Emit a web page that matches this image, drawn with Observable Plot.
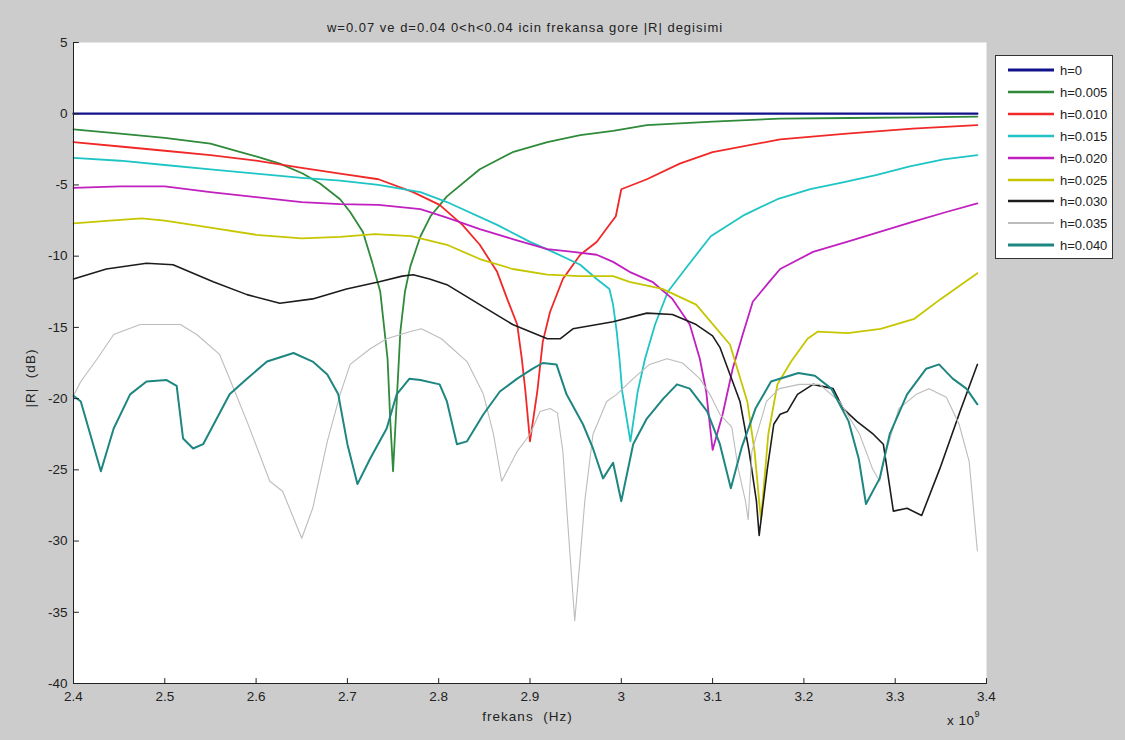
<!DOCTYPE html>
<html>
<head>
<meta charset="utf-8">
<script src="https://cdn.jsdelivr.net/npm/d3@7"></script>
<script src="https://cdn.jsdelivr.net/npm/@observablehq/plot@0.6"></script>
<style>
  html, body { margin: 0; padding: 0; background: #cccccc; }
  #fig { position: relative; width: 1125px; height: 740px; background: #cccccc; font-family: "Liberation Sans", Arial, sans-serif; color: #222; overflow: hidden; }
  #chart { position: absolute; left: 0; top: 0; }
  .lbl { position: absolute; white-space: pre; font-size: 13.5px; color: #222; letter-spacing: 1px; }
  #legend { position: absolute; left: 995px; top: 55px; width: 116px; height: 202px; background: #fff; border: 1px solid #333; }
  .lrow { position: absolute; left: 0; height: 22px; width: 116px; }
  .lrow svg { position: absolute; left: 12px; top: 0; }
  .lrow span { position: absolute; left: 64px; top: 4px; font-size: 13px; color: #222; }
</style>
</head>
<body>
<div id="fig">
  <div id="chart"></div>
  <div class="lbl" id="title" style="left:0; width:1050px; top:20px; text-align:center; font-size:13px;"></div>
  <div class="lbl" id="xlabel" style="left:0; width:1055px; top:709px; text-align:center;"></div>
  <div class="lbl" id="ylabel" style="left:30px; top:378px; transform: translate(-50%,-50%) rotate(-90deg);"></div>
  <div class="lbl" id="xexp" style="left:947px; top:711px; letter-spacing:0.5px;"></div>
  <div id="legend"></div>
</div>
<script>
// ---- text ----
const titleText = "w=0.07 ve d=0.04 0<h<0.04 icin frekansa gore |R| degisimi";
const xLabelText = "frekans  (Hz)";
const yLabelText = "|R|  (dB)";
const xExponent = "9";

// ---- ticks ----
const xTicks = [2.4, 2.5, 2.6, 2.7, 2.8, 2.9, 3.0, 3.1, 3.2, 3.3, 3.4];
const yTicks = [5, 0, -5, -10, -15, -20, -25, -30, -35, -40];

// ---- series (frequency in GHz, |R| in dB) ----
const seriesNames = ["h=0", "h=0.005", "h=0.010", "h=0.015", "h=0.020", "h=0.025", "h=0.030", "h=0.035", "h=0.040"];

const f000 = [2.40, 3.39];
const r000 = [0, 0];

const f005 = [2.400,2.451,2.500,2.550,2.583,2.600,2.626,2.651,2.670,2.692,2.703,2.717,2.727,2.736,2.744,2.747,2.750,2.754,2.758,2.763,2.769,2.780,2.791,2.809,2.845,2.881,2.919,2.955,2.991,3.028,3.100,3.174,3.250,3.327,3.390];
const r005 = [-1.1,-1.4,-1.7,-2.1,-2.7,-3.0,-3.5,-4.2,-4.9,-6.0,-6.9,-8.3,-10.4,-12.5,-17.2,-21.6,-25.1,-20.2,-15.3,-12.5,-10.7,-8.6,-7.2,-5.8,-3.9,-2.7,-2.0,-1.5,-1.2,-0.8,-0.55,-0.35,-0.3,-0.25,-0.2];

const f010 = [2.400,2.451,2.500,2.550,2.600,2.650,2.692,2.734,2.772,2.801,2.826,2.845,2.864,2.875,2.886,2.891,2.895,2.900,2.908,2.914,2.922,2.936,2.955,2.973,2.987,2.994,3.000,3.028,3.064,3.100,3.174,3.247,3.319,3.390];
const r010 = [-2.0,-2.3,-2.6,-2.9,-3.3,-3.8,-4.2,-4.6,-5.5,-6.4,-7.8,-9.2,-11.1,-13.0,-14.8,-17.2,-19.5,-23.0,-19.5,-16.0,-13.9,-11.6,-9.9,-9.0,-7.8,-7.2,-5.3,-4.6,-3.5,-2.7,-1.8,-1.4,-1.05,-0.8];

const f015 = [2.400,2.451,2.500,2.550,2.600,2.650,2.692,2.734,2.780,2.809,2.864,2.900,2.925,2.955,2.973,2.987,2.991,2.995,2.998,3.001,3.010,3.018,3.026,3.037,3.051,3.070,3.098,3.135,3.171,3.207,3.244,3.280,3.316,3.353,3.390];
const r015 = [-3.1,-3.3,-3.6,-3.9,-4.2,-4.5,-4.7,-5.0,-5.5,-6.2,-7.8,-9.0,-9.7,-10.6,-11.6,-12.3,-13.4,-15.3,-17.2,-19.5,-23.0,-19.5,-17.2,-14.8,-12.5,-10.9,-8.6,-7.1,-6.0,-5.3,-4.8,-4.3,-3.7,-3.2,-2.9];

const f020 = [2.400,2.451,2.500,2.550,2.600,2.650,2.692,2.734,2.780,2.809,2.845,2.881,2.919,2.947,2.973,2.991,3.009,3.034,3.056,3.075,3.086,3.093,3.100,3.111,3.122,3.133,3.144,3.162,3.174,3.210,3.247,3.283,3.319,3.356,3.390];
const r020 = [-5.2,-5.1,-5.1,-5.5,-5.85,-6.2,-6.35,-6.4,-6.7,-7.3,-8.1,-8.8,-9.5,-9.7,-9.9,-10.4,-11.1,-11.8,-13.0,-14.8,-17.2,-19.5,-23.6,-21.1,-17.9,-15.5,-13.2,-11.8,-10.9,-9.7,-9.0,-8.3,-7.6,-6.9,-6.3];

const f025 = [2.400,2.451,2.475,2.500,2.550,2.600,2.650,2.692,2.730,2.770,2.809,2.845,2.881,2.919,2.955,2.991,3.009,3.045,3.082,3.119,3.138,3.146,3.151,3.153,3.161,3.171,3.186,3.204,3.215,3.248,3.284,3.321,3.350,3.390];
const r025 = [-7.7,-7.45,-7.35,-7.5,-8.0,-8.5,-8.75,-8.65,-8.45,-8.6,-9.2,-10.2,-10.9,-11.3,-11.4,-11.4,-11.8,-12.3,-13.4,-16.2,-20.2,-23.7,-27.2,-28.5,-22.5,-19.0,-17.4,-15.8,-15.3,-15.4,-15.1,-14.4,-13.0,-11.2];

const f030 = [2.400,2.436,2.480,2.509,2.553,2.590,2.626,2.662,2.699,2.735,2.760,2.772,2.790,2.809,2.845,2.881,2.919,2.933,2.947,2.991,3.028,3.056,3.082,3.100,3.108,3.130,3.140,3.148,3.151,3.160,3.167,3.174,3.182,3.193,3.210,3.232,3.243,3.258,3.276,3.287,3.298,3.313,3.329,3.349,3.371,3.390];
const r030 = [-11.6,-10.9,-10.5,-10.6,-11.8,-12.7,-13.3,-13.0,-12.3,-11.8,-11.4,-11.3,-11.6,-12.0,-13.4,-14.8,-15.8,-15.8,-15.1,-14.6,-14.0,-14.1,-14.8,-15.6,-16.4,-20.2,-23.7,-27.2,-29.6,-24.9,-21.8,-21.1,-20.9,-19.7,-19.0,-19.3,-20.7,-21.6,-22.5,-23.2,-27.9,-27.7,-28.2,-24.9,-20.9,-17.6];

const f035 = [2.400,2.408,2.426,2.444,2.473,2.517,2.535,2.560,2.571,2.590,2.615,2.629,2.650,2.662,2.678,2.692,2.703,2.725,2.743,2.768,2.781,2.803,2.831,2.849,2.860,2.869,2.886,2.900,2.911,2.922,2.930,2.936,2.941,2.949,2.954,2.960,2.969,2.984,2.995,3.013,3.031,3.050,3.067,3.086,3.097,3.108,3.121,3.128,3.136,3.139,3.143,3.159,3.173,3.195,3.217,3.239,3.261,3.275,3.283,3.290,3.304,3.323,3.337,3.356,3.370,3.381,3.390];
const r035 = [-19.8,-18.8,-17.2,-15.5,-14.8,-14.8,-15.5,-16.9,-18.6,-21.6,-25.8,-26.5,-29.8,-27.7,-23.0,-19.7,-17.6,-16.5,-15.8,-15.3,-15.1,-15.8,-17.4,-19.7,-22.5,-25.8,-23.7,-22.5,-20.9,-20.7,-21.0,-23.7,-28.4,-35.6,-31.9,-27.2,-22.5,-20.2,-19.7,-18.6,-17.6,-17.2,-17.5,-18.6,-19.7,-21.1,-22.0,-24.9,-27.2,-28.5,-23.7,-20.2,-19.3,-19.0,-19.0,-20.2,-22.5,-24.9,-25.8,-23.7,-20.7,-19.7,-19.3,-19.9,-21.8,-24.4,-30.7];

const f040 = [2.400,2.408,2.430,2.444,2.462,2.480,2.502,2.513,2.520,2.531,2.542,2.571,2.590,2.612,2.641,2.662,2.678,2.690,2.700,2.711,2.725,2.743,2.754,2.768,2.780,2.801,2.809,2.820,2.831,2.849,2.867,2.886,2.903,2.914,2.929,2.940,2.958,2.969,2.980,2.991,3.000,3.013,3.028,3.046,3.061,3.075,3.094,3.108,3.120,3.132,3.147,3.164,3.194,3.212,3.230,3.249,3.260,3.268,3.283,3.294,3.313,3.334,3.348,3.363,3.378,3.390];
const r040 = [-19.8,-20.2,-25.1,-22.1,-19.7,-18.8,-18.7,-19.1,-22.8,-23.5,-23.2,-19.7,-18.6,-17.4,-16.8,-17.4,-18.3,-19.7,-23.2,-26.0,-24.2,-22.1,-19.7,-18.6,-18.7,-19.0,-20.2,-23.2,-23.0,-21.1,-19.5,-18.6,-17.9,-17.5,-17.6,-19.7,-21.8,-23.5,-25.6,-24.5,-27.2,-23.2,-21.4,-20.0,-19.0,-19.3,-20.9,-23.2,-26.3,-23.4,-20.7,-18.8,-18.2,-18.4,-19.3,-21.6,-24.2,-27.4,-25.6,-22.5,-19.7,-17.9,-17.6,-18.6,-19.3,-20.4];

// ---- styles ----
const seriesColors = ["#12128c", "#2f8a3a", "#f02828", "#1fc4c4", "#c020c0", "#c6c600", "#1c1c1c", "#bcbcbc", "#1e8680"];
const seriesWidths = [2.3, 1.8, 1.8, 1.8, 1.8, 1.8, 1.6, 1.1, 2.0];

const seriesF = [f000, f005, f010, f015, f020, f025, f030, f035, f040];
const seriesR = [r000, r005, r010, r015, r020, r025, r030, r035, r040];

const rowsOf = (i) => seriesF[i].map((f, j) => ({h: seriesNames[i], f, r: seriesR[i][j]}));

const fmt = (d) => String(Math.round(d * 10) / 10);

const tickShapeUp = { draw(ctx, l) { ctx.moveTo(0, 0); ctx.lineTo(0, -l); } };

const marks = [
  Plot.frame({fill: "white", stroke: "none"}),
  ...seriesNames.map((name, i) => Plot.line(rowsOf(i), {
    x: "f", y: "r", stroke: seriesColors[i], strokeWidth: seriesWidths[i],
    strokeLinejoin: "round", curve: "linear"
  })),
  Plot.ruleX([xTicks[0]], {stroke: "#222", strokeWidth: 1}),
  Plot.ruleY([yTicks[yTicks.length - 1]], {stroke: "#222", strokeWidth: 1}),
  Plot.vector(xTicks, {x: (d) => d, y: yTicks[yTicks.length - 1], length: 5, rotate: 0, anchor: "start", shape: tickShapeUp, stroke: "#222", strokeWidth: 1}),
  Plot.vector(yTicks, {x: xTicks[0], y: (d) => d, length: 5, rotate: 90, anchor: "start", shape: tickShapeUp, stroke: "#222", strokeWidth: 1}),
  Plot.axisX({ticks: xTicks, tickFormat: fmt, tickSize: 0, tickPadding: 8, label: null, fontSize: 13.5}),
  Plot.axisY({ticks: yTicks, tickFormat: (d) => String(d), tickSize: 0, tickPadding: 6, label: null, fontSize: 13.5})
];

const chart = Plot.plot({
  width: 1125,
  height: 740,
  marginLeft: 73,
  marginRight: 139,
  marginTop: 42,
  marginBottom: 57,
  style: {background: "transparent", fontFamily: "'Liberation Sans', Arial, sans-serif", fontSize: "13.5px", color: "#222"},
  x: {domain: [2.4, 3.4]},
  y: {domain: [-40, 5]},
  marks
});
document.getElementById("chart").appendChild(chart);

document.getElementById("title").textContent = titleText;
document.getElementById("xlabel").textContent = xLabelText;
document.getElementById("ylabel").textContent = yLabelText;
document.getElementById("xexp").innerHTML = "x 10<sup style='font-size:9px; position:relative; top:-2px;'>" + xExponent + "</sup>";

// legend
const legend = document.getElementById("legend");
seriesNames.forEach((name, i) => {
  const row = document.createElement("div");
  row.className = "lrow";
  row.style.top = (3 + i * 21.9) + "px";
  const svgNS = "http://www.w3.org/2000/svg";
  const s = document.createElementNS(svgNS, "svg");
  s.setAttribute("width", "48"); s.setAttribute("height", "22");
  const ln = document.createElementNS(svgNS, "line");
  ln.setAttribute("x1", "0"); ln.setAttribute("x2", "46");
  ln.setAttribute("y1", "11"); ln.setAttribute("y2", "11");
  ln.setAttribute("stroke", seriesColors[i]);
  ln.setAttribute("stroke-width", String(seriesWidths[i] + 0.8));
  s.appendChild(ln);
  row.appendChild(s);
  const t = document.createElement("span");
  t.textContent = name;
  row.appendChild(t);
  legend.appendChild(row);
});
</script>
</body>
</html>
